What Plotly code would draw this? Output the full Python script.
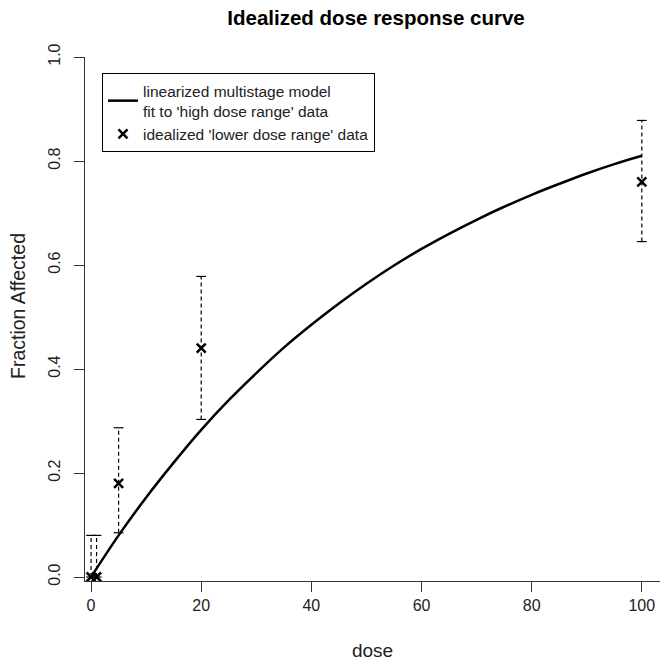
import plotly.graph_objects as go

# Model curve
curve_dose = [0, 5, 10, 15, 20, 25, 30, 35, 40, 45, 50, 55, 60, 65, 70, 75, 80, 85, 90, 95, 100]
curve_frac = [0.0, 0.08, 0.153, 0.22, 0.283, 0.34, 0.392, 0.441, 0.485, 0.526, 0.564, 0.599, 0.631,
              0.66, 0.687, 0.712, 0.735, 0.756, 0.776, 0.794, 0.81]

# Idealized lower dose range data
data_dose = [0, 1, 5, 20, 100]
data_frac = [0.0, 0.0, 0.18, 0.44, 0.76]
data_lower = [0.0, 0.0, 0.085, 0.303, 0.645]
data_upper = [0.08, 0.08, 0.287, 0.578, 0.878]

fig = go.Figure()

# dashed error bar stems
ex, ey = [], []
for d, lo, hi in zip(data_dose, data_lower, data_upper):
    ex += [d, d, None]
    ey += [lo, hi, None]
fig.add_trace(go.Scatter(x=ex, y=ey, mode="lines", showlegend=False, hoverinfo="skip",
                         line=dict(color="black", width=1.2, dash="4px,3px")))
# caps
fig.add_trace(go.Scatter(x=data_dose + data_dose, y=data_upper + data_lower, mode="markers",
                         showlegend=False, hoverinfo="skip",
                         marker=dict(symbol="line-ew", size=7, line=dict(color="black", width=1.2))))

fig.add_trace(go.Scatter(x=curve_dose, y=curve_frac, mode="lines",
                         name="linearized multistage model<br>fit to 'high dose range' data",
                         line=dict(color="black", width=2.5, shape="spline")))
fig.add_trace(go.Scatter(x=data_dose, y=data_frac, mode="markers",
                         name="idealized 'lower dose range' data",
                         marker=dict(symbol="x-thin", size=9, line=dict(color="black", width=2.5))))

font_family = "Liberation Sans, Arial, sans-serif"
W, H = 660, 661
fig.update_layout(
    width=W, height=H,
    margin=dict(l=85, r=0, t=57, b=80),
    paper_bgcolor="white", plot_bgcolor="white",
    font=dict(family=font_family, size=16, color="#222"),
    title=dict(text="<b>Idealized dose response curve</b>", x=376 / W,
               xanchor="center", y=1 - 18 / H, yanchor="middle",
               font=dict(size=20.5, color="black", family=font_family)),
    showlegend=True,
    legend=dict(x=(102 - 85) / 575, y=(581 - 73) / 524, xanchor="left", yanchor="top",
                bgcolor="white", bordercolor="black", borderwidth=1,
                font=dict(size=15.5, color="#222"), tracegroupgap=2, itemwidth=30),
    annotations=[dict(text="Fraction Affected", textangle=-90, xref="paper", yref="paper",
                      x=(18 - 85) / 575, y=(581 - 306) / 524, xanchor="center", yanchor="middle",
                      showarrow=False, font=dict(family=font_family, size=19.5, color="#222"))],
)
fig.update_xaxes(range=[-1.1, 103.3], showgrid=False, zeroline=False, showline=True, automargin=False,
                 linecolor="#333", linewidth=1, ticks="outside", ticklen=10, tickcolor="#333",
                 tickvals=[0, 20, 40, 60, 80, 100], title=dict(text="dose", standoff=37))
fig.update_yaxes(range=[-0.0077, 1.0], showgrid=False, zeroline=False, showline=True, automargin=False,
                 linecolor="#333", linewidth=1, ticks="outside", ticklen=10, tickcolor="#333",
                 tickvals=[0, 0.2, 0.4, 0.6, 0.8, 1.0], ticktext=["0.0", "0.2", "0.4", "0.6", "0.8", "1.0"],
                 tickangle=-90, ticklabelstandoff=8)

fig.write_html("out.html", config={"displayModeBar": False},
               post_script="document.body.style.margin='0px';document.body.style.overflow='hidden';")
